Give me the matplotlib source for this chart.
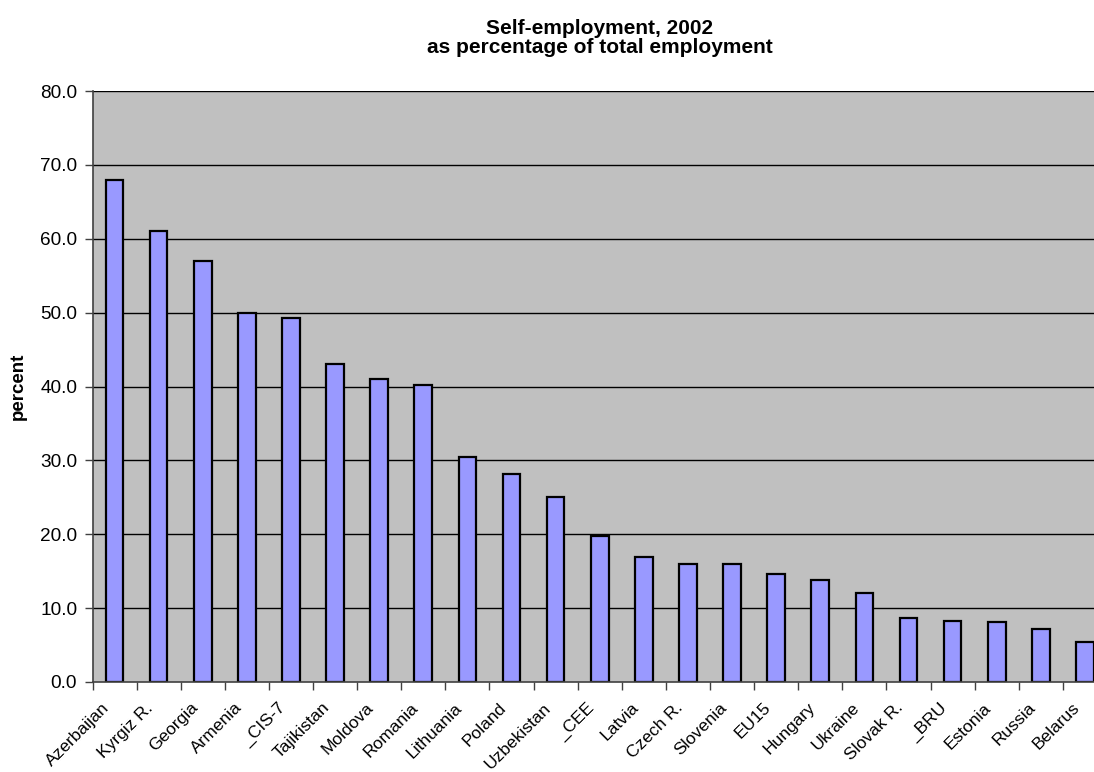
import matplotlib.pyplot as plt
import matplotlib.transforms as mtransforms
import numpy as np

plt.rcParams['font.family'] = ['Liberation Sans', 'DejaVu Sans']

countries = ['Azerbaijan', 'Kyrgiz R.', 'Georgia', 'Armenia', '_CIS-7', 'Tajikistan',
             'Moldova', 'Romania', 'Lithuania', 'Poland', 'Uzbekistan', '_CEE',
             'Latvia', 'Czech R.', 'Slovenia', 'EU15', 'Hungary', 'Ukraine',
             'Slovak R.', '_BRU', 'Estonia', 'Russia', 'Belarus']
self_employment = [68.0, 61.0, 57.0, 50.0, 49.3, 43.0,
                   41.0, 40.2, 30.5, 28.1, 25.0, 19.8,
                   16.9, 16.0, 16.0, 14.6, 13.8, 12.0,
                   8.7, 8.2, 8.1, 7.2, 5.4]
yticks = np.arange(0, 81, 10)

W, H = 1094, 772
fig = plt.figure(figsize=(W / 100, H / 100), dpi=100)
# plot area runs a little past the right edge of the canvas
ax = fig.add_axes([92.5 / W, (H - 682) / H, 1014.5 / W, 591 / H])
ax.set_facecolor('#C0C0C0')

x = np.arange(len(countries))
for y in yticks[1:]:
    ax.axhline(y, color='black', linewidth=1.0, zorder=1)
ax.bar(x, self_employment, width=0.4, color='#9999FF', edgecolor='black',
       linewidth=1.6, zorder=2)

ax.set_xlim(-0.5, len(countries) - 0.5)
ax.set_ylim(0, 80)
ax.set_yticks(yticks)
ax.set_yticklabels(['%.1f' % v for v in yticks], fontsize=13.7)
ax.tick_params(axis='y', direction='out', length=6, width=1, color='#404040', pad=5)

ax.set_xticks(x)
ax.set_xticklabels(countries, fontsize=12.5, rotation=45, ha='right',
                   rotation_mode='anchor')
ax.tick_params(axis='x', which='major', length=0, pad=13)
# shift the slanted labels so they end just left of each bar
shift = mtransforms.ScaledTranslation(-13 / 100, 0, fig.dpi_scale_trans)
for lbl in ax.get_xticklabels():
    lbl.set_transform(lbl.get_transform() + shift)
ax.set_xticks(np.arange(len(countries)) - 0.5, minor=True)
ax.tick_params(axis='x', which='minor', direction='out', length=6, width=1, color='#404040')

for side in ['top', 'right']:
    ax.spines[side].set_visible(False)
for side in ['left', 'bottom']:
    ax.spines[side].set_color('#404040')
    ax.spines[side].set_linewidth(1.2)

fig.text(600 / W, 1 - 38 / H, 'Self-employment, 2002\nas percentage of total employment',
         ha='center', va='center', fontsize=15, fontweight='bold', linespacing=0.95)
fig.text(18 / W, 1 - 386 / H, 'percent', rotation=90, ha='center', va='center',
         fontsize=13.5, fontweight='bold')

fig.savefig('out.png', dpi=100)
